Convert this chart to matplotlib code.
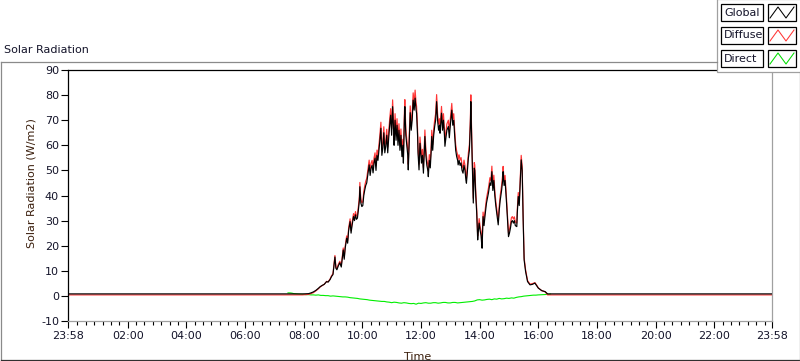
import numpy as np
import matplotlib.pyplot as plt
from matplotlib.patches import Rectangle

# Time in minutes after midnight (axis runs 23:58 -> 23:58)
t_sun = [-2, 478, 490, 495, 500, 505, 510, 514, 518, 522, 527, 530, 534, 537, 540, 542, 544, 546, 548, 551,
         554, 557, 559, 561, 563, 565, 568, 570, 572, 575, 577, 579, 582, 584, 586, 588, 590, 592, 594, 595,
         597, 599, 601, 603, 605, 607, 609, 611, 614, 616, 618, 620, 622, 624, 626, 628, 630, 632, 634, 636,
         638, 640, 642, 644, 646, 648, 650, 652, 654, 656, 658, 660, 662, 664, 665, 667, 669, 671, 673, 675,
         677, 679, 681, 683, 684, 686, 687, 689, 691, 693, 694, 696, 698, 700, 702, 704, 706, 708, 710, 711,
         713, 714, 716, 718, 720, 721, 723, 725, 727, 728, 730, 732, 734, 735, 737, 739, 741, 742, 744, 746,
         748, 750, 752, 754, 756, 758, 759, 761, 762, 764, 766, 768, 769, 771, 773, 776, 778, 780, 783, 785,
         787, 789, 791, 793, 795, 796, 798, 800, 802, 804, 806, 808, 810, 812, 813, 815, 817, 819, 821, 822,
         824, 826, 827, 829, 830, 832, 834, 836, 837, 839, 841, 843, 844, 845, 847, 849, 851, 854, 856, 858,
         861, 863, 865, 867, 869, 871, 873, 875, 877, 878, 880, 882, 885, 887, 888, 890, 892, 894, 895, 897,
         899, 901, 903, 905, 907, 909, 911, 913, 916, 917, 919, 921, 923, 925, 927, 929, 931, 934, 938, 943,
         948, 953, 957, 960, 967, 974, 979, 985, 1438]

global_rad = [0.8, 0.8, 0.9, 1.2, 1.6, 2.2, 3.0, 3.7, 4.2, 4.6, 5.7, 5.5, 6.5, 7.7, 8.5, 12, 15.5, 11, 10.4, 12,
              13.2, 11.5, 15, 18.3, 14.6, 19, 23, 21, 26, 29.6, 25, 28, 31.6, 30, 32.3, 30.5, 31, 34.3, 38, 43.5,
              37, 35.6, 36, 40, 42.2, 44, 45, 48, 52.2, 48, 51, 52, 49, 53, 54.9, 50, 56, 54, 58, 62,
              66.8, 56, 59, 65, 57, 59.6, 64, 57, 63, 68, 72, 64, 75.4, 66, 60, 70, 62, 68, 60, 66,
              58, 64, 55.5, 60, 52.9, 70, 75.4, 64, 60, 56, 50.2, 62, 73, 66, 70, 78, 74, 78.8, 74, 72.8,
              64, 56.8, 50.2, 60.8, 56, 52.9, 56, 48.9, 58, 63.5, 56, 52, 50, 47.5, 54, 51, 58, 63.5, 58, 64,
              67.5, 70, 77.4, 70, 66, 68, 64.8, 70, 72.8, 66, 70, 64, 59.6, 63, 66, 67.5, 63, 68, 74, 68,
              70, 63.5, 58, 55.5, 54, 52.2, 54, 52, 53, 50, 48.9, 52, 50, 46, 44.9, 50, 55, 58, 68, 77.4,
              60, 45, 37, 50.9, 50, 40, 33, 22.3, 25, 29, 26, 24, 21, 19, 31.6, 28, 32, 37, 39, 41,
              45, 44, 49.5, 42, 46, 40, 36, 33, 30, 28.3, 34, 38, 42.2, 46, 49.5, 44, 46, 40, 37, 30,
              23.6, 25, 27, 29.6, 30, 29, 30, 28, 27.6, 33, 39.6, 36, 45, 54.2, 50, 30.3, 14.3, 9.7, 5.7, 4.4,
              4.6, 5.1, 4.0, 3.1, 2.1, 1.7, 0.8, 0.8, 0.8]

diffuse_rad = [0.4, 0.4, 0.6, 0.9, 1.3, 2.0, 2.8, 3.6, 4.1, 4.6, 5.8, 5.6, 6.7, 8.0, 8.9, 12.5, 16.1, 11.5, 10.9, 12.6,
               13.8, 12.1, 15.7, 19.1, 15.3, 19.8, 23.9, 21.9, 27.0, 30.7, 26.0, 29.1, 32.8, 31.2, 33.6, 31.8, 32.3, 35.7, 39.5, 45.2,
               38.5, 37.1, 37.5, 41.6, 43.9, 45.7, 46.8, 49.8, 54.1, 49.8, 52.9, 54.0, 50.9, 55.0, 57.0, 52.0, 58.1, 56.1, 60.2, 64.3,
               69.2, 58.2, 61.3, 67.4, 59.3, 61.9, 66.4, 59.3, 65.4, 70.5, 74.6, 66.5, 78.1, 68.6, 62.4, 72.6, 64.5, 70.6, 62.4, 68.6,
               60.4, 66.5, 57.8, 62.4, 55.1, 72.6, 78.2, 66.5, 62.4, 58.3, 52.4, 64.5, 75.7, 68.6, 72.7, 80.9, 76.8, 82.0, 76.9, 75.6,
               66.6, 59.2, 52.5, 63.3, 58.4, 55.2, 58.4, 51.1, 60.4, 66.1, 58.4, 54.3, 52.2, 49.7, 56.3, 53.2, 60.4, 66.0, 60.3, 66.5,
               70.1, 72.6, 80.2, 72.6, 68.5, 70.6, 67.3, 72.6, 75.5, 68.5, 72.6, 66.4, 62.0, 65.4, 68.5, 70.0, 65.4, 70.5, 76.7, 70.5,
               72.6, 65.9, 60.3, 57.7, 56.2, 54.3, 56.2, 54.1, 55.1, 52.0, 50.9, 54.1, 52.0, 47.9, 46.8, 52.0, 57.1, 60.2, 70.5, 80.1,
               62.3, 47.1, 38.9, 53.1, 52.2, 41.9, 34.8, 23.9, 26.7, 30.8, 27.7, 25.6, 22.6, 20.5, 33.4, 29.7, 33.8, 38.9, 40.9, 43.0,
               47.1, 46.0, 51.7, 44.0, 48.1, 41.9, 37.8, 34.7, 31.6, 29.9, 35.8, 39.9, 44.2, 48.1, 51.6, 45.9, 48.0, 41.8, 38.7, 31.6,
               25.1, 26.5, 28.6, 31.2, 31.6, 30.6, 31.5, 29.5, 29.0, 34.5, 41.2, 37.5, 46.7, 56.0, 51.6, 31.5, 15.2, 10.4, 6.1, 4.7,
               4.9, 5.3, 4.2, 3.2, 2.1, 1.6, 0.4, 0.4, 0.4]

t_direct = [448, 452, 456, 460, 470, 480, 485, 490, 495, 500, 505, 510, 515, 520, 525, 530, 535, 540, 545, 550,
            555, 560, 565, 570, 575, 580, 585, 590, 595, 600, 605, 610, 615, 620, 625, 630, 635, 640, 645, 650,
            655, 660, 665, 670, 675, 680, 685, 690, 695, 700, 705, 710, 715, 720, 725, 730, 735, 740, 745, 750,
            755, 760, 765, 770, 775, 780, 785, 790, 795, 800, 805, 810, 815, 820, 825, 830, 835, 840, 845, 850,
            855, 860, 865, 870, 875, 880, 885, 890, 895, 900, 905, 910, 915, 920, 925, 930, 935, 940, 945, 950,
            955, 960, 970, 980, 985]
direct_rad = [1.2, 1.2, 1.1, 0.9, 0.7, 0.6, 0.5, 0.5, 0.4, 0.4, 0.3, 0.4, 0.2, 0.2, 0.1, 0.1, -0.1, 0.0, -0.1, -0.2,
              -0.3, -0.4, -0.4, -0.5, -0.7, -0.8, -0.9, -1.0, -1.2, -1.3, -1.4, -1.5, -1.7, -1.8, -1.9, -2.0, -2.1, -2.2, -2.2, -2.4,
              -2.5, -2.7, -2.5, -2.6, -2.8, -2.9, -2.7, -2.8, -3.0, -3.1, -3.0, -3.3, -2.9, -3.0, -2.8, -2.7, -2.9, -2.9, -2.7, -2.7,
              -2.9, -2.8, -2.6, -2.6, -2.8, -2.8, -2.6, -2.6, -2.8, -2.7, -2.6, -2.5, -2.4, -2.3, -2.2, -2.0, -1.6, -1.5, -1.7, -1.6,
              -1.4, -1.3, -1.5, -1.2, -1.3, -1.0, -1.2, -1.1, -0.9, -1.0, -0.8, -0.9, -0.6, -0.4, -0.3, -0.1, 0.0, 0.1, 0.2, 0.3,
              0.3, 0.4, 0.5, 0.6, 0.7]

y_ticks = list(range(-10, 91, 10))
x_major = [-2, 120, 240, 360, 480, 600, 720, 840, 960, 1080, 1200, 1320, 1438]
x_labels = ["23:58", "02:00", "04:00", "06:00", "08:00", "10:00", "12:00",
            "14:00", "16:00", "18:00", "20:00", "22:00", "23:58"]

W, H = 800, 361
TXT = "#14142a"
LBL = "#3a1e0c"

fig = plt.figure(figsize=(W / 100, H / 100), dpi=100)
fig.patch.set_facecolor("white")

ax = fig.add_axes([68 / W, 1 - 321 / H, 704 / W, 251 / H])
ax.plot(t_direct, direct_rad, color="#00ee00", lw=0.8, zorder=1)
ax.plot(t_sun, diffuse_rad, color="#ff3535", lw=0.85, zorder=2)
ax.plot(t_sun, global_rad, color="black", lw=0.85, zorder=3)

ax.set_xlim(-2, 1438)
ax.set_ylim(-10, 90)
ax.set_yticks(y_ticks)
ax.set_yticklabels([str(v) for v in y_ticks])
ax.set_xticks(x_major)
ax.set_xticklabels(x_labels)
minor = [m for m in np.arange(0, 1440, 120 / 7) if min(abs(m - x_major[i]) for i in range(len(x_major))) > 3]
ax.set_xticks(minor, minor=True)

ax.tick_params(axis="y", direction="out", length=5, width=0.8, color="black",
               labelsize=8, labelcolor=TXT, pad=1.5)
ax.tick_params(axis="x", which="major", direction="out", length=5, width=0.8, color="black",
               labelsize=8, labelcolor=TXT, pad=2)
ax.tick_params(axis="x", which="minor", direction="out", length=3, width=0.8, color="black")

for s in ["left", "top"]:
    ax.spines[s].set_color("black")
    ax.spines[s].set_linewidth(0.9)
for s in ["bottom", "right"]:
    ax.spines[s].set_color("#a0a0a0")
    ax.spines[s].set_linewidth(0.9)

ax.set_ylabel("Solar Radiation (W/m2)", fontsize=8, color=LBL)
ax.yaxis.set_label_coords(-0.045, 0.55)
ax.set_xlabel("Time", fontsize=8, color=LBL, labelpad=1)
ax.xaxis.set_label_coords(0.497, -0.125)

# decoration overlay: outer frame, caption, plot legend
ov = fig.add_axes([0, 0, 1, 1], zorder=5)
ov.set_xlim(0, W)
ov.set_ylim(H, 0)
ov.axis("off")
ov.patch.set_alpha(0)

ov.plot([0.5, 717], [61.5, 61.5], color="#8a8a8a", lw=0.9)
ov.plot([0.5, 0.5], [61.5, 360], color="#8a8a8a", lw=0.9)
ov.plot([0.5, 799.5], [359.5, 359.5], color="#303030", lw=0.9)
ov.plot([799.5, 799.5], [72, 360], color="#8a8a8a", lw=0.9)
ov.text(4, 50, "Solar Radiation", fontsize=8, color=TXT, va="center", ha="left")

ov.add_patch(Rectangle((717, -1), 84, 73, facecolor="white", edgecolor="#a0a0a0", lw=0.9))
names = ["Global", "Diffuse", "Direct"]
colors = ["black", "#ff3535", "#00dd00"]
for i, (nm, c) in enumerate(zip(names, colors)):
    y0 = 4 + i * 23
    ov.add_patch(Rectangle((721, y0), 42, 17, facecolor="white", edgecolor="black", lw=0.9))
    ov.text(724, y0 + 8.5, nm, fontsize=8, color=TXT, va="center", ha="left")
    ov.add_patch(Rectangle((768, y0), 28, 17, facecolor="white", edgecolor="black", lw=0.9))
    ov.plot([770, 778, 786, 794], [y0 + 14, y0 + 3, y0 + 14, y0 + 3], color=c, lw=0.75)

fig.savefig("out.png", dpi=100)
